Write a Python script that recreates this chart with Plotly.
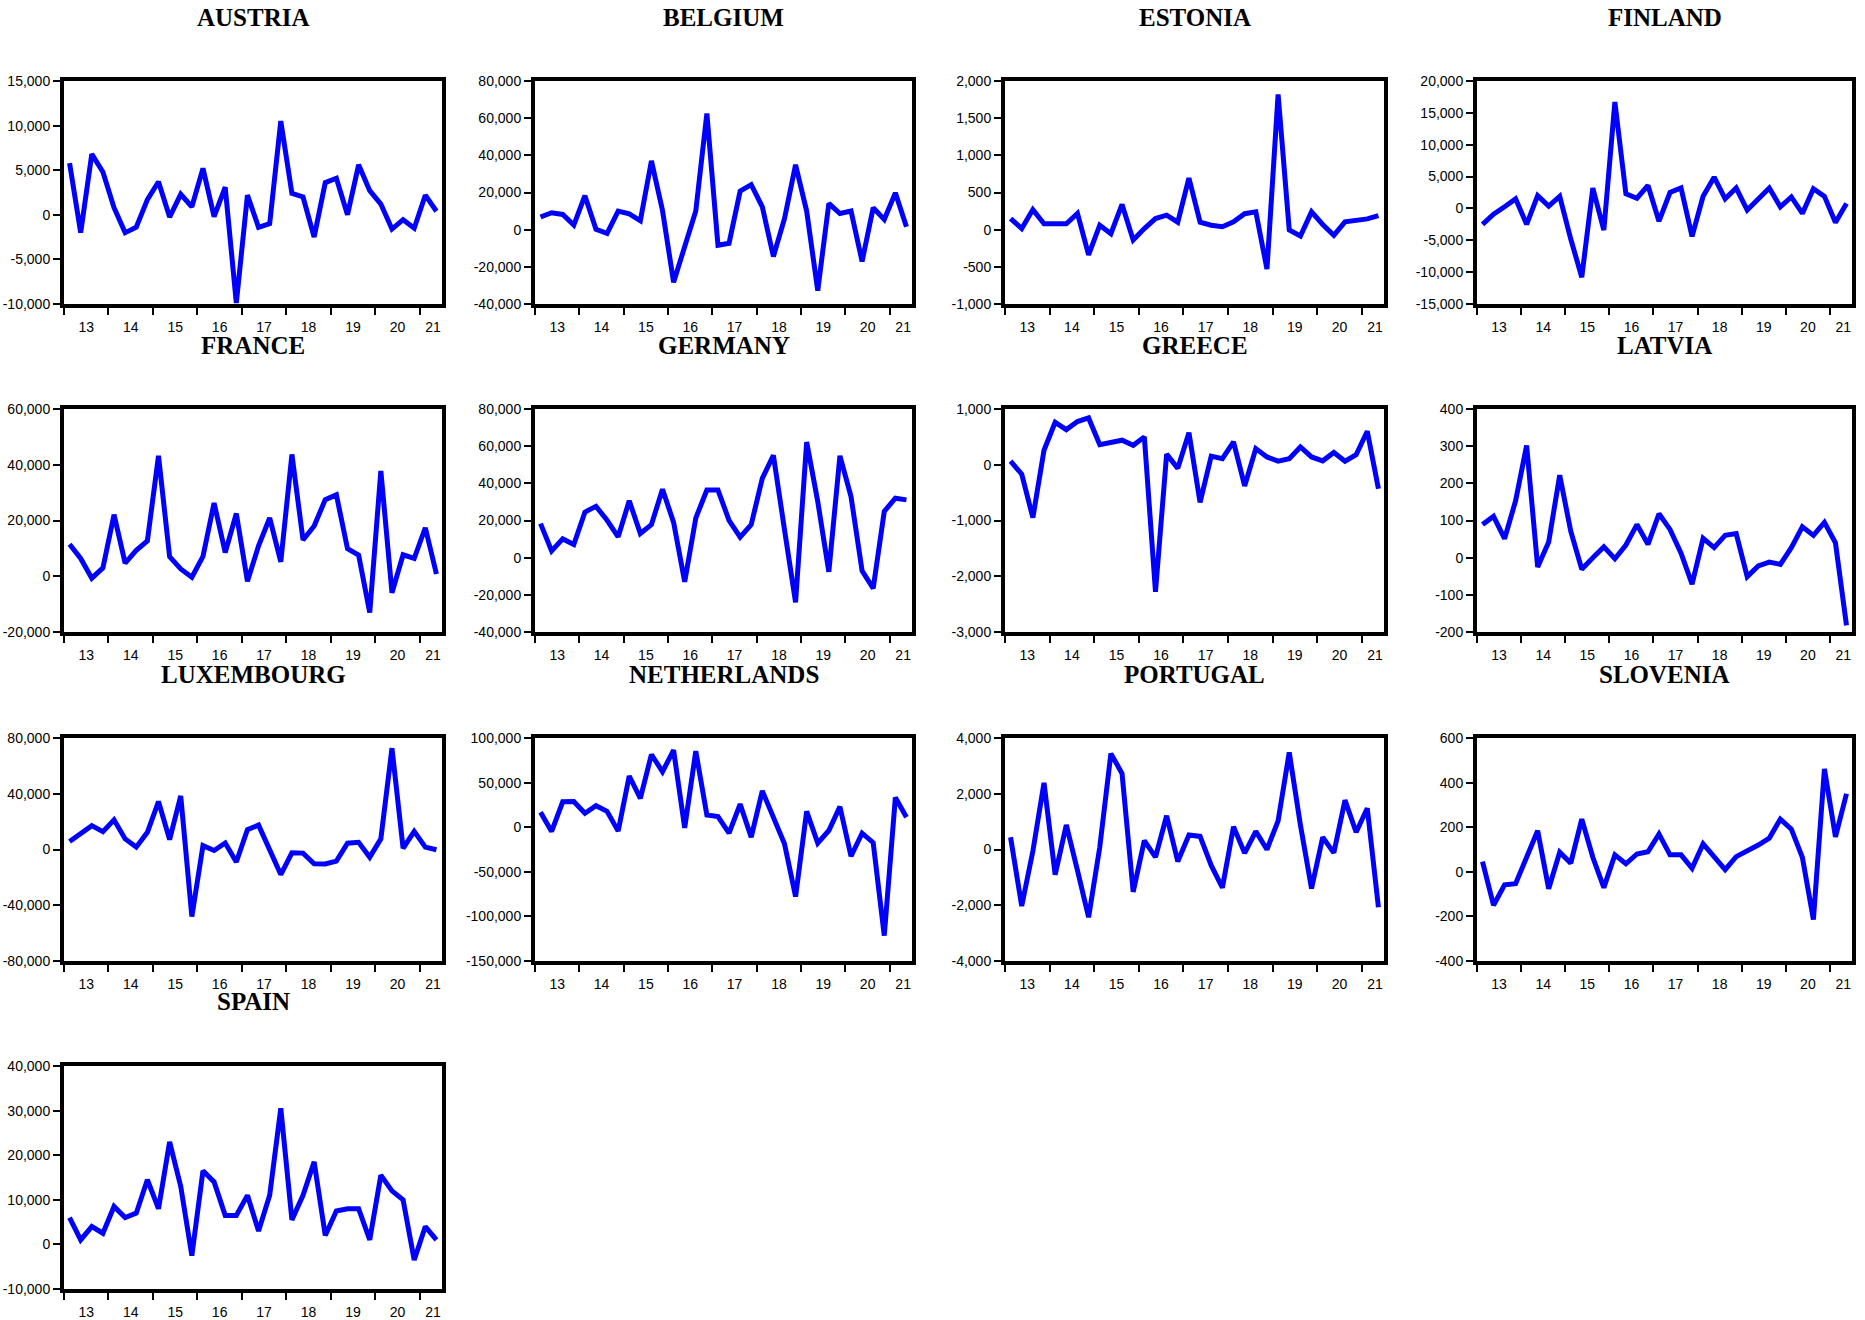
import plotly.graph_objects as go

# quarterly observations, 2013Q1 .. 2021Q2
quarters = [f"{y}Q{q}" for y in range(2013, 2022) for q in range(1, 5)][:34]

austria = [5800, -2000, 6800, 4800, 800, -2000, -1400, 1700, 3700, -250, 2300, 900,
           5200, -200, 3100, -9900, 2200, -1400, -1000, 10500, 2400, 2000, -2500, 3600,
           4100, 0, 5600, 2700, 1200, -1600, -550, -1500, 2200, 400]
belgium = [6800, 9100, 8200, 2500, 18300, 200, -2000, 10000, 8500, 4800, 37000, 10300,
           -28300, -8700, 10000, 62500, -8400, -7300, 20700, 24200, 12300, -14400, 5900, 34900,
           10000, -32800, 14100, 8700, 10000, -17100, 11800, 5500, 19800, 1600]
estonia = [150, 15, 270, 80, 80, 80, 220, -340, 60, -55, 340, -140,
           15, 150, 195, 100, 695, 100, 60, 40, 105, 215, 240, -530,
           1820, -5, -85, 240, 70, -75, 105, 130, 145, 190]
finland = [-2500, -900, 260, 1500, -2500, 2000, 360, 1900, -4800, -10800, 3200, -3400,
           16700, 2300, 1600, 3600, -2000, 2500, 3200, -4400, 1900, 4900, 1500, 3200,
           -260, 1500, 3200, 260, 1800, -780, 3100, 1900, -2200, 780]
france = [11500, 6400, -700, 3000, 22100, 4700, 9300, 12700, 43200, 7000, 2600, -350,
          7100, 26300, 8500, 22500, -1800, 10900, 20900, 5200, 43700, 13000, 18000, 27500,
          29200, 9900, 7600, -13000, 37800, -5900, 7700, 6400, 17400, 800]
germany = [18300, 3600, 10100, 7100, 24500, 27600, 20100, 11200, 30600, 13000, 17800, 36800,
           19000, -13000, 21300, 36400, 36400, 20100, 11000, 17800, 42700, 55100, 15100, -24000,
           62200, 30200, -7600, 54800, 32900, -7100, -16500, 24900, 32000, 31100]
greece = [65, -170, -950, 260, 760, 630, 775, 840, 360, 410, 440, 350,
          500, -2280, 190, -65, 575, -675, 155, 110, 410, -380, 290, 140,
          65, 110, 320, 140, 70, 220, 65, 180, 600, -430]
latvia = [89, 111, 51, 153, 302, -25, 42, 222, 71, -31, 0, 29,
          -3, 34, 89, 36, 118, 76, 12, -71, 52, 27, 60, 65,
          -51, -22, -12, -18, 27, 83, 60, 95, 40, -182]
luxembourg = [5700, 11100, 17100, 12800, 21300, 7600, 1700, 12300, 34400, 7100, 38400, -48100,
              2800, -700, 4700, -9000, 14200, 17500, 500, -18000, -2400, -2600, -10200, -10400,
              -8300, 4500, 5200, -5500, 7600, 72700, 900, 13000, 1700, -200]
netherlands = [16700, -4800, 28500, 28900, 15600, 24100, 17800, -4400, 57400, 32200, 81500, 62200,
               86300, -700, 85200, 13700, 11900, -6700, 25900, -11100, 40700, 10400, -18500, -77800,
               17800, -17800, -3700, 23000, -32600, -6700, -17400, -121500, 33300, 11100]
portugal = [440, -2030, -60, 2390, -900, 880, -750, -2430, 80, 3440, 2730, -1520,
            320, -270, 1210, -430, 520, 470, -570, -1370, 820, -130, 650, 0,
            1030, 3480, 880, -1400, 440, -120, 1770, 620, 1480, -2070]
slovenia = [46, -150, -58, -53, 65, 184, -76, 88, 39, 236, 65, -71,
            76, 36, 80, 90, 169, 76, 76, 16, 125, 68, 10, 68,
            92, 120, 151, 236, 191, 65, -214, 461, 157, 350]
spain = [6000, 1000, 4000, 2500, 8500, 6000, 7000, 14500, 8000, 23000, 13000, -2500,
         16500, 14000, 6500, 6500, 11000, 3000, 11000, 30500, 5500, 11000, 18500, 2000,
         7500, 8000, 8000, 1000, 15500, 12000, 10000, -3500, 4000, 1000]

countries = ["AUSTRIA", "BELGIUM", "ESTONIA", "FINLAND", "FRANCE", "GERMANY", "GREECE",
             "LATVIA", "LUXEMBOURG", "NETHERLANDS", "PORTUGAL", "SLOVENIA", "SPAIN"]
series = [austria, belgium, estonia, finland, france, germany, greece,
          latvia, luxembourg, netherlands, portugal, slovenia, spain]
# (min, max, step) of each value axis
y_scales = [(-10000, 15000, 5000), (-40000, 80000, 20000), (-1000, 2000, 500),
            (-15000, 20000, 5000), (-20000, 60000, 20000), (-40000, 80000, 20000),
            (-3000, 1000, 1000), (-200, 400, 100), (-80000, 80000, 40000),
            (-150000, 100000, 50000), (-4000, 4000, 2000), (-400, 600, 200),
            (-10000, 40000, 10000)]
year_labels = ["13", "14", "15", "16", "17", "18", "19", "20", "21"]

W, H = 1865, 1320
col_left = [64, 535, 1005, 1477]
col_right = [442, 912, 1384, 1852]
row_top = [81, 409, 738, 1066]
row_bottom = [304, 632, 961, 1289]

x_pos = list(range(len(quarters)))
year_starts = [4 * k - 0.5 for k in range(len(year_labels))]
label_pos = [s + 2 for s in year_starts[:-1]] + [year_starts[-1] + 1.2]

tick_font = dict(family="Liberation Sans, Arial, sans-serif", size=14, color="black")

fig = go.Figure()
for i, (name, vals, (lo, hi, step)) in enumerate(zip(countries, series, y_scales)):
    r, c = divmod(i, 4)
    n = "" if i == 0 else str(i + 1)
    fig.add_trace(go.Scatter(
        x=x_pos, y=vals, mode="lines", xaxis="x" + n, yaxis="y" + n,
        line=dict(color="#0000ff", width=5), customdata=quarters,
        hovertemplate="%{customdata}: %{y:,}<extra></extra>", showlegend=False,
    ))
    ticks = list(range(lo, hi + 1, step))
    fig.layout["xaxis" + n] = dict(
        domain=[col_left[c] / W, col_right[c] / W], anchor="y" + n, automargin=False,
        range=[-0.5, len(quarters) - 0.5], showgrid=False, zeroline=False,
        showline=True, linecolor="black", linewidth=4, mirror=True,
        tickmode="array", tickvals=label_pos, ticktext=year_labels,
        ticks="outside", ticklen=7, tickcolor="rgba(0,0,0,0)", tickfont=tick_font,
        minor=dict(tickmode="array", tickvals=year_starts, ticks="outside",
                   ticklen=7, tickwidth=2, tickcolor="black", showgrid=False),
    )
    fig.layout["yaxis" + n] = dict(
        domain=[1 - row_bottom[r] / H, 1 - row_top[r] / H], anchor="x" + n, automargin=False,
        range=[lo, hi], showgrid=False, zeroline=False,
        showline=True, linecolor="black", linewidth=4, mirror=True,
        tickmode="array", tickvals=ticks, ticktext=[f"{t:,}" for t in ticks],
        ticks="outside", ticklen=7, tickwidth=2, tickcolor="black", tickfont=tick_font,
    )
    fig.add_annotation(
        text=f"<b>{name}</b>", xref="paper", yref="paper", showarrow=False,
        x=(col_left[c] + col_right[c]) / 2 / W, y=1 - (row_top[r] - 64) / H,
        xanchor="center", yanchor="middle",
        font=dict(family="Liberation Serif, Times New Roman, serif", size=25, color="black"),
    )

fig.update_layout(
    width=W, height=H, margin=dict(l=0, r=0, t=0, b=0, autoexpand=False),
    paper_bgcolor="white", plot_bgcolor="white",
)
# drop the browser's default page margin so the figure sits at the window origin
fig.write_html("out.html", config={"displayModeBar": False},
               post_script="document.body.style.margin = '0';")
